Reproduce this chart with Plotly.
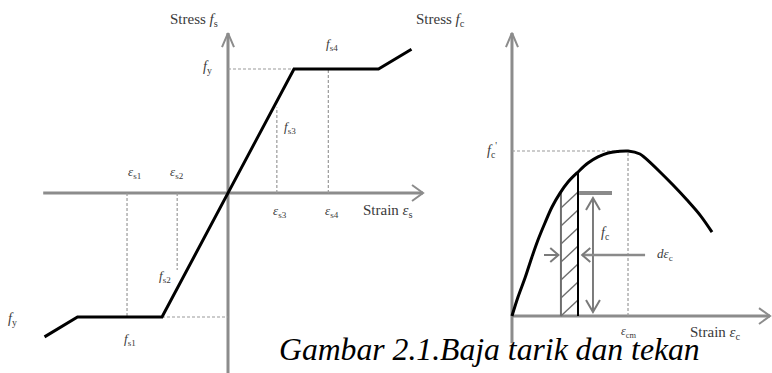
import numpy as np
import plotly.graph_objects as go

# ---- Steel (left): normalised strain eps/eps_y and stress f/f_y ----
steel_strain = [-2.78, -2.28, -1.0, 0.0, 1.0, 2.28, 2.78]
steel_stress = [-1.16, -1.0, -1.0, 0.0, 1.0, 1.0, 1.16]

# marked strains and the stress levels read at them
eps_marks = {"s1": -1.53, "s2": -0.77, "s3": 0.74, "s4": 1.52}
fs_guides = {"s1": -1.0, "s2": -0.62, "s3": 0.69, "s4": 1.0}

# ---- Concrete (right): normalised strain eps/eps_cm and stress f/f'c ----
conc_strain = [0.0, 0.052, 0.112, 0.172, 0.224, 0.284, 0.345, 0.414, 0.483, 0.569,
               0.655, 0.741, 0.828, 0.914, 1.0, 1.103, 1.147, 1.276, 1.388, 1.509,
               1.621, 1.724]
conc_stress = [0.0, 0.115, 0.230, 0.358, 0.461, 0.564, 0.661, 0.745, 0.812, 0.873,
               0.927, 0.964, 0.988, 0.997, 1.0, 0.982, 0.958, 0.873, 0.794, 0.703,
               0.612, 0.509]

strip_left, strip_right = 0.422, 0.569          # d eps_c strip
hatch_levels = [0.0, 0.109, 0.218, 0.327, 0.436, 0.545, 0.655]
hatch_rise = 0.097

W, H = 772, 373
SERIF = "Liberation Serif"
AXIS_C = "#8c8c8c"
DASH_C = "#9a9a9a"
TXT_C = "#3a3a3a"

fig = go.Figure()


def line(xs, ys, color="black", width=3, dash=None, panel=1, shape="linear"):
    ax = {} if panel == 1 else dict(xaxis="x2", yaxis="y2")
    fig.add_trace(go.Scatter(x=xs, y=ys, mode="lines", hoverinfo="skip",
                             line=dict(color=color, width=width, dash=dash, shape=shape),
                             showlegend=False, **ax))


# ------------- left panel -------------
# axes with open arrow heads
line([-2.8, 2.955], [0, 0], AXIS_C, 3)
line([2.955 - 0.167, 2.955, 2.955 - 0.167], [0.0645, 0, -0.0645], AXIS_C, 2)
line([0, 0], [-1.46, 1.29], AXIS_C, 3)
line([-0.091, 0, 0.091], [1.29 - 0.113, 1.29, 1.29 - 0.113], AXIS_C, 2)

# guide lines
line([0, 1.0], [1.0, 1.0], DASH_C, 1.2, "3px,2px")
line([-1.0, 0], [-1.0, -1.0], DASH_C, 1.2, "3px,2px")
for k in eps_marks:
    line([eps_marks[k], eps_marks[k]], [0, fs_guides[k]], DASH_C, 1.2, "3px,2px")

# stress-strain curve
line(steel_strain, steel_stress, "black", 3)

# ------------- right panel -------------
line([0, 2.224], [0, 0], AXIS_C, 3, panel=2)
line([2.224 - 0.095, 2.224, 2.224 - 0.095], [0.048, 0, -0.048], AXIS_C, 2, panel=2)
line([0, 0], [-0.164, 1.715], AXIS_C, 3, panel=2)
line([-0.052, 0, 0.052], [1.715 - 0.085, 1.715, 1.715 - 0.085], AXIS_C, 2, panel=2)

line([0, 1.0], [1.0, 1.0], DASH_C, 1.2, "3px,2px", panel=2)
line([1.0, 1.0], [0, 1.0], DASH_C, 1.2, "3px,2px", panel=2)

# hatched strip
top_l = float(np.interp(strip_left, conc_strain, conc_stress))
top_r = float(np.interp(strip_right, conc_strain, conc_stress))
for lv in hatch_levels:
    line([strip_left, strip_right], [lv, lv + hatch_rise], "#6e6e6e", 1.4, panel=2)
line([strip_left, strip_left], [0, top_l], "#6e6e6e", 2, panel=2)
line([strip_right, strip_right], [0, top_r], "black", 2, panel=2)
line([strip_right + 0.01, 0.862], [0.745, 0.745], "#8a8a8a", 4, panel=2)

# f_c double arrow
fx = 0.698
line([fx, fx], [0.024, 0.715], "#7a7a7a", 2, panel=2)
line([fx - 0.06, fx, fx + 0.06], [0.715 - 0.073, 0.715, 0.715 - 0.073], "#7a7a7a", 2, panel=2)
line([fx - 0.06, fx, fx + 0.06], [0.024 + 0.073, 0.024, 0.024 + 0.073], "#7a7a7a", 2, panel=2)

# d eps_c arrows
ay = 0.37
line([0.276, 0.40], [ay, ay], "#7a7a7a", 2, panel=2)
line([0.33, 0.40, 0.33], [ay + 0.042, ay, ay - 0.042], "#7a7a7a", 2, panel=2)
line([0.605, 1.147], [ay, ay], "#8a8a8a", 2.5, panel=2)
line([0.675, 0.605, 0.675], [ay + 0.042, ay, ay - 0.042], "#7a7a7a", 2, panel=2)

# concrete curve
line(conc_strain, conc_stress, "black", 3, panel=2, shape="spline")

# ------------- labels -------------
def label(x, y, text, size=13, panel=1, color=TXT_C):
    ref = dict(xref="x", yref="y") if panel == 1 else dict(xref="x2", yref="y2")
    fig.add_annotation(x=x, y=y, text=text, showarrow=False,
                       font=dict(family=SERIF, size=size, color=color), **ref)


label(-0.515, 1.395, "Stress <i>f</i><sub>s</sub>", 15)
label(3.227, 1.395, "Stress <i>f</i><sub>c</sub>", 15)
label(-0.318, 1.016, "<i>f</i><sub>y</sub>", 14)
label(-3.27, -1.024, "<i>f</i><sub>y</sub>", 14)
label(1.576, 1.194, "<i>f</i><sub>s4</sub>", 13)
label(0.94, 0.532, "<i>f</i><sub>s3</sub>", 13)
label(-0.955, -0.677, "<i>f</i><sub>s2</sub>", 13)
label(-1.485, -1.185, "<i>f</i><sub>s1</sub>", 13)
label(eps_marks["s1"] + 0.12, 0.169, "<i>ε</i><sub>s1</sub>", 13)
label(eps_marks["s2"], 0.169, "<i>ε</i><sub>s2</sub>", 13)
label(eps_marks["s3"] + 0.05, -0.153, "<i>ε</i><sub>s3</sub>", 13)
label(eps_marks["s4"] + 0.05, -0.153, "<i>ε</i><sub>s4</sub>", 13)
label(2.424, -0.145, "Strain <i>ε</i><sub>s</sub>", 15)

label(-0.172, 1.006, "<i>f</i><sub>c</sub><sup>'</sup>", 14, panel=2)
label(0.802, 0.503, "<i>f</i><sub>c</sub>", 14, panel=2)
label(1.319, 0.37, "<i>dε</i><sub>c</sub>", 13, panel=2)
label(1.0, -0.095, "<i>ε</i><sub>cm</sub>", 12, panel=2)
label(1.75, -0.103, "Strain <i>ε</i><sub>c</sub>", 15, panel=2)

fig.add_annotation(x=277 / W, y=1 - 349 / H, xref="paper", yref="paper",
                   xanchor="left", yanchor="middle", showarrow=False,
                   text="Gambar 2.1.Baja tarik dan tekan",
                   font=dict(family=SERIF, size=31.7, color="black", style="italic"))

hidden = dict(visible=False, fixedrange=True)
fig.update_layout(
    width=W, height=H, margin=dict(l=0, r=0, t=0, b=0),
    paper_bgcolor="white", plot_bgcolor="white",
    xaxis=dict(domain=[0, 460 / W], range=[-3.4545, 3.515], **hidden),
    yaxis=dict(domain=[0, 1], range=[-1.4516, 1.5565], **hidden),
    xaxis2=dict(domain=[460 / W, 1], range=[-0.448, 2.241], anchor="y2", **hidden),
    yaxis2=dict(domain=[0, 1], range=[-0.345, 1.915], anchor="x2", **hidden),
    showlegend=False,
)

fig.write_html("out.html")
